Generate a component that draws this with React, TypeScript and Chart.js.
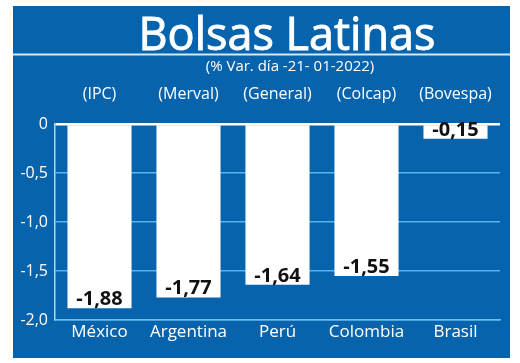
import React, { useEffect, useRef } from "react";
import { Chart, registerables } from "chart.js";

Chart.register(...registerables);

const categories = ["México", "Argentina", "Perú", "Colombia", "Brasil"];
const indices = ["(IPC)", "(Merval)", "(General)", "(Colcap)", "(Bovespa)"];
const values = [-1.88, -1.77, -1.64, -1.55, -0.15];
const titleText = "Bolsas Latinas";
const subtitleText = "(% Var. día -21- 01-2022)";

const BLUE = "#0863ad";
const GRID = "#55b4ea";
const FONT = '"Open Sans", "DejaVu Sans", sans-serif';

const fmt = (v: number) => (v === 0 ? "0" : v.toFixed(2).replace(".", ","));

export default function App() {
  const ref = useRef<HTMLCanvasElement | null>(null);

  useEffect(() => {
    document.body.style.margin = "0";
    const canvas = ref.current;
    if (!canvas) return;

    const decor = {
      id: "decor",
      beforeDraw(chart: any) {
        const ctx = chart.ctx;
        ctx.save();
        ctx.fillStyle = "#ffffff";
        ctx.fillRect(0, 0, chart.width, chart.height);
        ctx.fillStyle = BLUE;
        ctx.fillRect(13, 6, 497, 352);
        // separator
        ctx.strokeStyle = "#d4eaf8";
        ctx.lineWidth = 2;
        ctx.beginPath();
        ctx.moveTo(13, 54.5);
        ctx.lineTo(510, 54.5);
        ctx.stroke();
        // title
        ctx.fillStyle = "#ffffff";
        ctx.strokeStyle = "#ffffff";
        ctx.textAlign = "center";
        ctx.textBaseline = "alphabetic";
        ctx.font = `45px ${FONT}`;
        ctx.lineWidth = 0.9;
        ctx.fillText(titleText, 287, 50);
        ctx.strokeText(titleText, 287, 50);
        ctx.font = `15px ${FONT}`;
        ctx.fillText(subtitleText, 290, 71);
        // index labels
        const xs = chart.scales.x;
        ctx.font = `16px ${FONT}`;
        ctx.textBaseline = "middle";
        indices.forEach((t, i) => {
          ctx.fillText(t, xs.getPixelForValue(i), 94);
        });
        ctx.restore();
      },
      afterDatasetsDraw(chart: any) {
        const ctx = chart.ctx;
        const meta = chart.getDatasetMeta(0);
        ctx.save();
        ctx.fillStyle = "#111111";
        ctx.font = `bold 20px ${FONT}`;
        ctx.textAlign = "center";
        ctx.textBaseline = "alphabetic";
        meta.data.forEach((bar: any, i: number) => {
          const bottom = Math.max(bar.y, bar.base);
          ctx.fillText(fmt(values[i]), bar.x, bottom - 3);
        });
        ctx.restore();
      },
    };

    const chart = new Chart(canvas, {
      type: "bar",
      data: {
        labels: categories,
        datasets: [
          {
            data: values,
            backgroundColor: "#ffffff",
            borderWidth: 0,
            barPercentage: 0.72,
            categoryPercentage: 1,
          },
        ],
      },
      options: {
        responsive: false,
        animation: false,
        devicePixelRatio: 1,
        layout: { padding: { top: 124, left: 0, right: 20, bottom: 12 } },
        plugins: {
          legend: { display: false },
          tooltip: { enabled: false },
          title: { display: false },
        },
        scales: {
          x: {
            grid: { display: false, drawTicks: false },
            border: { display: true, color: "#6cc0ee", width: 1.5 },
            ticks: {
              color: "#ffffff",
              font: { family: FONT, size: 17 },
              padding: 2,
              maxRotation: 0,
            },
            afterFit: (s: any) => {
              s.height = 31;
            },
          },
          y: {
            min: -2,
            max: 0,
            grid: {
              drawTicks: false,
              color: (c: any) => (c.tick && c.tick.value === 0 ? "#ffffff" : GRID),
              lineWidth: (c: any) => (c.tick && c.tick.value === 0 ? 2.5 : 1.5),
            },
            border: { display: true, color: "#a8d8f4", width: 1.5 },
            ticks: {
              stepSize: 0.5,
              color: "#ffffff",
              font: { family: FONT, size: 16 },
              padding: 7,
              callback: (v: any) => (Number(v) === 0 ? "0" : Number(v).toFixed(1).replace(".", ",")),
            },
            afterFit: (s: any) => {
              s.width = 55;
            },
          },
        },
      },
      plugins: [decor],
    });

    return () => chart.destroy();
  }, []);

  return (
    <div style={{ width: 520, height: 363 }}>
      <canvas ref={ref} width={520} height={363} style={{ display: "block" }} />
    </div>
  );
}
